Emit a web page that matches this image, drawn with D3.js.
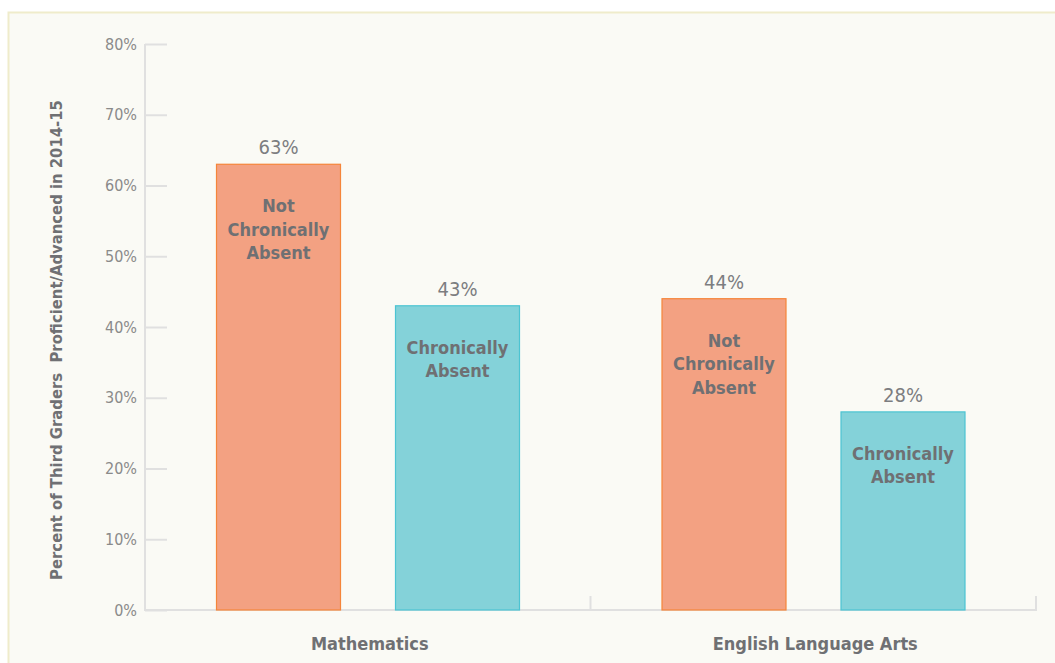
<!DOCTYPE html>
<html>
<head>
<meta charset="utf-8">
<script src="https://cdn.jsdelivr.net/npm/d3@7"></script>
<style>
  html, body { margin: 0; padding: 0; background: #ffffff; }
  svg { display: block; }
  text { font-family: "DejaVu Sans Condensed", "DejaVu Sans", sans-serif; }
</style>
</head>
<body>
<svg id="chart" width="1055" height="663"></svg>
<script>
// Subjects along the x axis
const subjects = ["Mathematics", "English Language Arts"];
// Attendance groups within each subject
const groups = ["Not Chronically Absent", "Chronically Absent"];
// Percent proficient/advanced, one array per attendance group
const notChronicallyAbsent = [63, 44];
const chronicallyAbsent = [43, 28];
// Label lines printed inside each bar
const groupLines = [["Not", "Chronically", "Absent"], ["Chronically", "Absent"]];
// Y-axis tick values
const yTicks = [0, 10, 20, 30, 40, 50, 60, 70, 80];

const series = [notChronicallyAbsent, chronicallyAbsent];
const fills = ["#f3a182", "#84d2d9"];
const strokes = ["#f5853a", "#4cc4d2"];

const svg = d3.select("#chart");

// Panel background
svg.append("rect")
  .attr("x", 8.5).attr("y", 12.5)
  .attr("width", 1100).attr("height", 700)
  .attr("fill", "#fafaf5")
  .attr("stroke", "#efeccb").attr("stroke-width", 2);

const margin = { left: 145, right: 1036, top: 44, bottom: 610 };

const x = d3.scaleBand()
  .domain(subjects)
  .range([margin.left, margin.right])
  .paddingInner(0).paddingOuter(0);

// Two bars per subject, centred in the band with a gap between them
const xInner = d3.scaleBand()
  .domain(groups)
  .range([71, 375])
  .paddingInner(54 / 179)
  .paddingOuter(0);

const y = d3.scaleLinear()
  .domain([0, 80])
  .range([margin.bottom, margin.top]);

const axisColor = "#e0e0e0";

// Y axis
const yAxis = svg.append("g")
  .attr("transform", `translate(${margin.left},0)`)
  .call(d3.axisLeft(y).tickValues(yTicks).tickFormat(d => d + "%").tickSize(-22).tickPadding(30));
yAxis.select(".domain").remove();
yAxis.selectAll(".tick line").attr("stroke", axisColor).attr("stroke-width", 2);
yAxis.selectAll(".tick text")
  .attr("fill", "#8a8a8a")
  .attr("font-size", 16)
  .attr("dx", 22)
  .attr("font-family", "'DejaVu Sans Condensed', sans-serif");
svg.append("line")
  .attr("x1", margin.left).attr("x2", margin.left)
  .attr("y1", y(80)).attr("y2", y(0) + 1)
  .attr("stroke", axisColor).attr("stroke-width", 2);

// X axis baseline with band dividers
svg.append("line")
  .attr("x1", margin.left).attr("x2", margin.right + 1)
  .attr("y1", y(0)).attr("y2", y(0))
  .attr("stroke", axisColor).attr("stroke-width", 2);
subjects.forEach(s => {
  const xe = x(s) + x.bandwidth();
  svg.append("line")
    .attr("x1", xe).attr("x2", xe)
    .attr("y1", y(0)).attr("y2", y(0) - 14)
    .attr("stroke", axisColor).attr("stroke-width", 2);
});

// Subject labels
svg.selectAll("text.subject")
  .data(subjects)
  .join("text")
  .attr("class", "subject")
  .attr("x", d => x(d) + x.bandwidth() / 2 + 2)
  .attr("y", 650)
  .attr("text-anchor", "middle")
  .attr("font-size", 18)
  .attr("font-weight", "bold")
  .attr("fill", "#6f7073")
  .text(d => d);

// Y axis title
svg.append("text")
  .attr("transform", `translate(62,340) rotate(-90)`)
  .attr("text-anchor", "middle")
  .attr("font-size", 16.5)
  .attr("font-weight", "bold")
  .attr("fill", "#6f7073")
  .attr("xml:space", "preserve")
  .style("white-space", "pre")
  .text("Percent of Third Graders  Proficient/Advanced in 2014-15");

// Bars, values and in-bar labels
const bars = [];
subjects.forEach((s, i) => {
  groups.forEach((g, j) => {
    bars.push({ subject: s, group: g, gi: j, value: series[j][i] });
  });
});

const barG = svg.append("g");
barG.selectAll("rect")
  .data(bars)
  .join("rect")
  .attr("x", d => x(d.subject) + xInner(d.group) + 0.5)
  .attr("y", d => y(d.value))
  .attr("width", xInner.bandwidth() - 1)
  .attr("height", d => y(0) - y(d.value))
  .attr("fill", d => fills[d.gi])
  .attr("stroke", d => strokes[d.gi])
  .attr("stroke-width", 1.2);

barG.selectAll("text.value")
  .data(bars)
  .join("text")
  .attr("class", "value")
  .attr("x", d => x(d.subject) + xInner(d.group) + xInner.bandwidth() / 2)
  .attr("y", d => y(d.value) - 10)
  .attr("text-anchor", "middle")
  .attr("font-size", 20)
  .attr("fill", "#7c7d80")
  .text(d => d.value + "%");

bars.forEach(d => {
  const cx = x(d.subject) + xInner(d.group) + xInner.bandwidth() / 2;
  const t = barG.append("text")
    .attr("x", cx)
    .attr("y", y(d.value) + 48)
    .attr("text-anchor", "middle")
    .attr("font-size", 18)
    .attr("font-weight", "bold")
    .attr("fill", "#6f7073");
  groupLines[d.gi].forEach((line, k) => {
    t.append("tspan")
      .attr("x", cx)
      .attr("dy", k === 0 ? 0 : 23.5)
      .text(line);
  });
});
</script>
</body>
</html>
